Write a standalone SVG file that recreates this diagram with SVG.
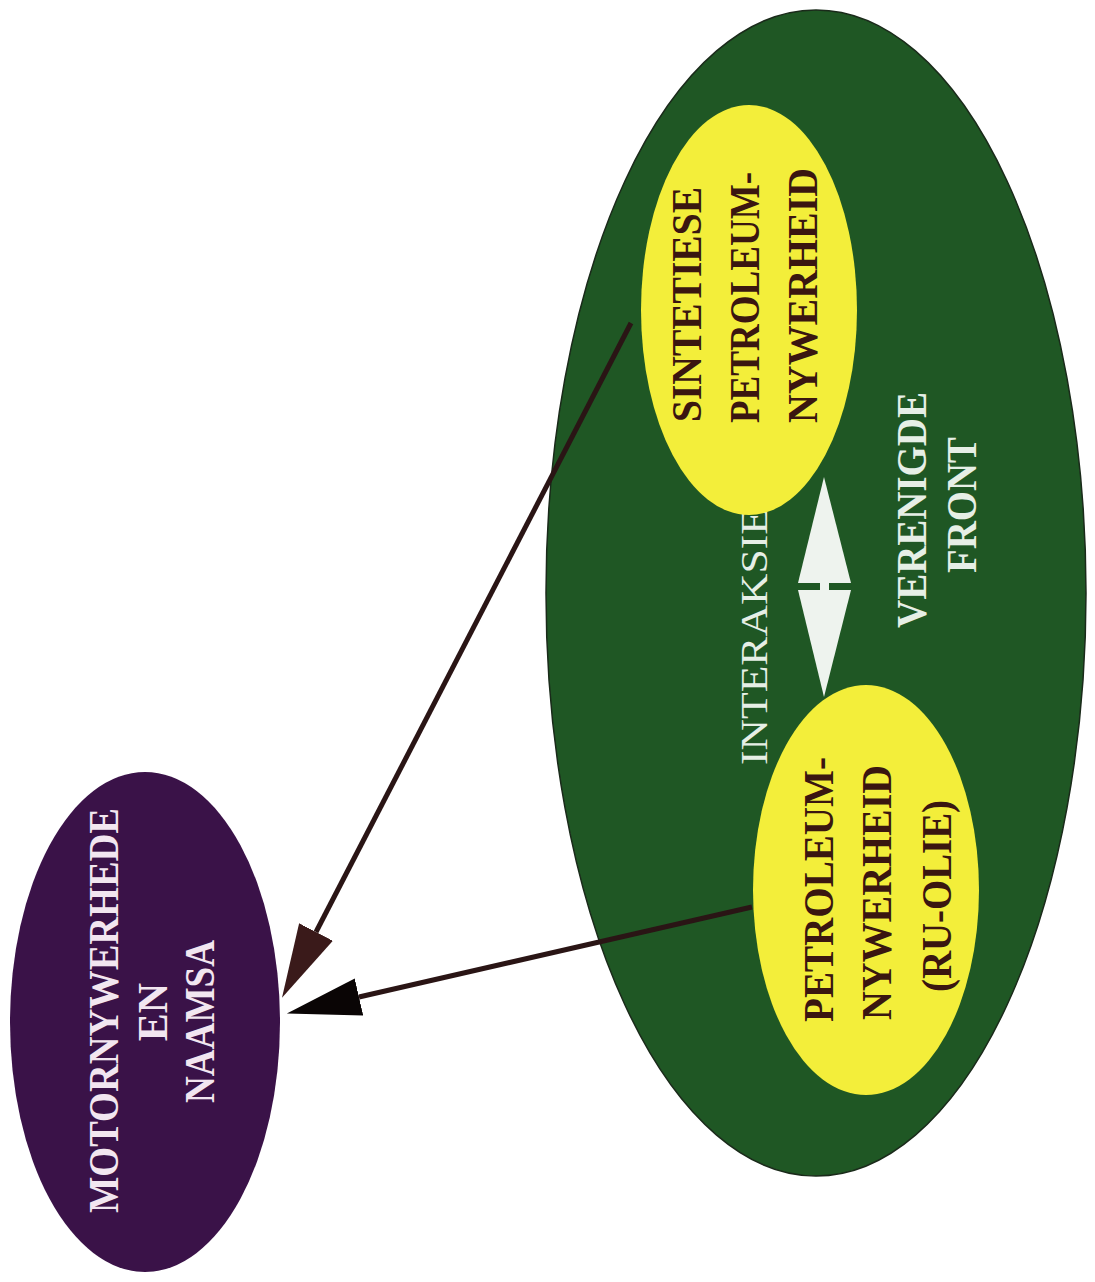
<svg xmlns="http://www.w3.org/2000/svg" width="1095" height="1282" viewBox="0 0 1095 1282">
<style>
.t{font-family:"Liberation Serif","Times New Roman",serif;}
.yb{font-weight:bold;fill:#3a1610;font-size:43px;}
.gw{fill:#e6efe6;font-size:42px;font-weight:bold;}
.pw{font-weight:bold;fill:#f2e6f0;font-size:42px;}
.ln{fill:none;stroke:#2a1515;stroke-width:5;stroke-linecap:butt;}
</style>
<defs>
<marker id="ahBrown" markerUnits="userSpaceOnUse" markerWidth="76" markerHeight="40" refX="0" refY="20" orient="auto" viewBox="0 0 76 40">
<polygon points="0,1 74,20 0,39" fill="#3a1a1a"/>
</marker>
<marker id="ahBlack" markerUnits="userSpaceOnUse" markerWidth="76" markerHeight="40" refX="0" refY="20" orient="auto" viewBox="0 0 76 40">
<polygon points="0,1 74,20 0,39" fill="#0a0505"/>
</marker>
</defs>
<rect width="1095" height="1282" fill="#ffffff"/>
<g id="verenigde-front">
<ellipse cx="816" cy="593" rx="270" ry="583" fill="#1f5724" stroke="#1a2a1a" stroke-width="1.5"/>
<text class="t gw" transform="translate(926,628) rotate(-90)" textLength="236" lengthAdjust="spacingAndGlyphs">VERENIGDE</text>
<text class="t gw" transform="translate(976,573) rotate(-90)" textLength="136" lengthAdjust="spacingAndGlyphs">FRONT</text>
<text class="t gw" style="font-size:37px;font-weight:normal" transform="translate(767,765) rotate(-90)" textLength="257" lengthAdjust="spacingAndGlyphs">INTERAKSIE</text>
</g>
<g id="connectors">
<path class="ln" d="M631,323 L316,932" marker-end="url(#ahBrown)"/>
<path class="ln" d="M752,907 L359,997" marker-end="url(#ahBlack)"/>
<g id="interaksie-arrow" fill="#eef3ee">
<polygon points="824,477 798,583 851,583"/>
<polygon points="798,590 851,590 824,697"/>
<rect x="820" y="582" width="9" height="9"/>
</g>
</g>
<g id="sintetiese">
<ellipse cx="749" cy="310" rx="108" ry="205" fill="#f3ee3a"/>
<text class="t yb" transform="translate(701,422) rotate(-90)" textLength="235" lengthAdjust="spacingAndGlyphs">SINTETIESE</text>
<text class="t yb" transform="translate(759,423) rotate(-90)" textLength="251" lengthAdjust="spacingAndGlyphs">PETROLEUM-</text>
<text class="t yb" transform="translate(817,423) rotate(-90)" textLength="255" lengthAdjust="spacingAndGlyphs">NYWERHEID</text>
</g>
<g id="ru-olie">
<ellipse cx="866" cy="890" rx="113" ry="205" fill="#f3ee3a"/>
<text class="t yb" transform="translate(833,1022) rotate(-90)" textLength="265" lengthAdjust="spacingAndGlyphs">PETROLEUM-</text>
<text class="t yb" transform="translate(891,1020) rotate(-90)" textLength="255" lengthAdjust="spacingAndGlyphs">NYWERHEID</text>
<text class="t yb" transform="translate(951,992) rotate(-90)" textLength="192" lengthAdjust="spacingAndGlyphs">(RU-OLIE)</text>
</g>
<g id="motornywerhede">
<ellipse cx="145" cy="1022" rx="135" ry="250" fill="#3a1248"/>
<text class="t pw" transform="translate(118,1213) rotate(-90)" textLength="405" lengthAdjust="spacingAndGlyphs">MOTORNYWERHEDE</text>
<text class="t pw" text-anchor="middle" transform="translate(167,1012) rotate(-90)">EN</text>
<text class="t pw" transform="translate(214,1103) rotate(-90)" textLength="163" lengthAdjust="spacingAndGlyphs">NAAMSA</text>
</g>
</svg>
